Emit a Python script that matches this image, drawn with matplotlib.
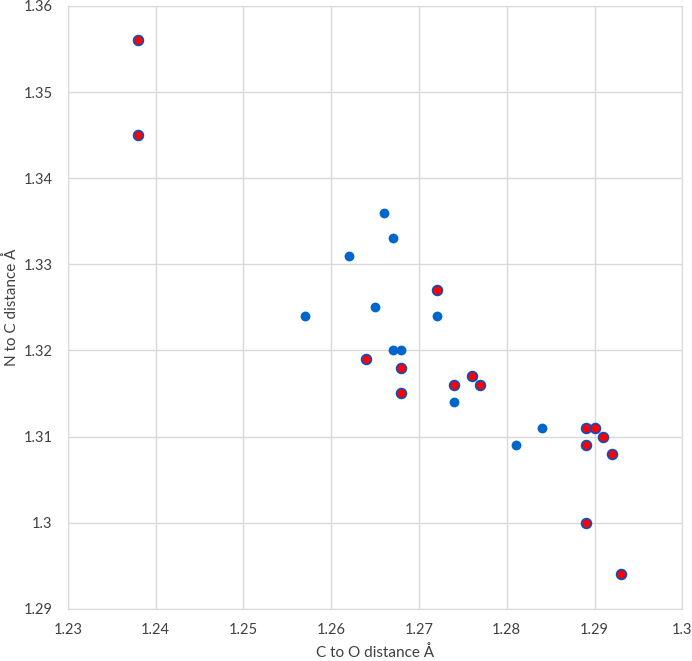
import matplotlib
matplotlib.use('Agg')
import matplotlib.pyplot as plt

plt.rcParams['font.family'] = ['Lato', 'DejaVu Sans']

# blue points
blue_x = [1.266, 1.267, 1.262, 1.257, 1.265, 1.272, 1.267, 1.268, 1.274, 1.281, 1.284]
blue_y = [1.336, 1.333, 1.331, 1.324, 1.325, 1.324, 1.320, 1.320, 1.314, 1.309, 1.311]

# red points with blue edge
red_x = [1.238, 1.238, 1.272, 1.264, 1.268, 1.268, 1.274, 1.276, 1.277,
         1.289, 1.290, 1.291, 1.289, 1.292, 1.289, 1.293]
red_y = [1.356, 1.345, 1.327, 1.319, 1.318, 1.315, 1.316, 1.317, 1.316,
         1.311, 1.311, 1.310, 1.309, 1.308, 1.300, 1.294]

xticks = [1.23, 1.24, 1.25, 1.26, 1.27, 1.28, 1.29, 1.3]
xlabels = ['1.23', '1.24', '1.25', '1.26', '1.27', '1.28', '1.29', '1.3']
yticks = [1.29, 1.30, 1.31, 1.32, 1.33, 1.34, 1.35, 1.36]
ylabels = ['1.29', '1.3', '1.31', '1.32', '1.33', '1.34', '1.35', '1.36']

fig = plt.figure(figsize=(6.92, 6.61), dpi=100)
ax = fig.add_axes([0.098, 0.079, 0.888, 0.912])

ax.scatter(blue_x, blue_y, s=50, color='#0066cc', zorder=3, linewidths=0)
ax.scatter(red_x, red_y, s=50, color='#ff0000', edgecolors='#0a4fc0', linewidths=1.2, zorder=4)

ax.set_xlim(1.23, 1.3)
ax.set_ylim(1.29, 1.36)
ax.set_xticks(xticks)
ax.set_xticklabels(xlabels)
ax.set_yticks(yticks)
ax.set_yticklabels(ylabels)
ax.tick_params(length=0, labelsize=10.5, colors='#404040')
ax.tick_params(axis='y', pad=11)
ax.tick_params(axis='x', pad=10)
ax.grid(color='#d9d9d9', linewidth=1)
ax.set_axisbelow(True)
for sp in ax.spines.values():
    sp.set_color('#d9d9d9')

ax.set_xlabel('C to O distance Å', fontsize=11, color='#404040', labelpad=6)
ax.set_ylabel('N to C distance Å', fontsize=11, color='#404040', labelpad=3)

fig.savefig('out.png', dpi=100)
